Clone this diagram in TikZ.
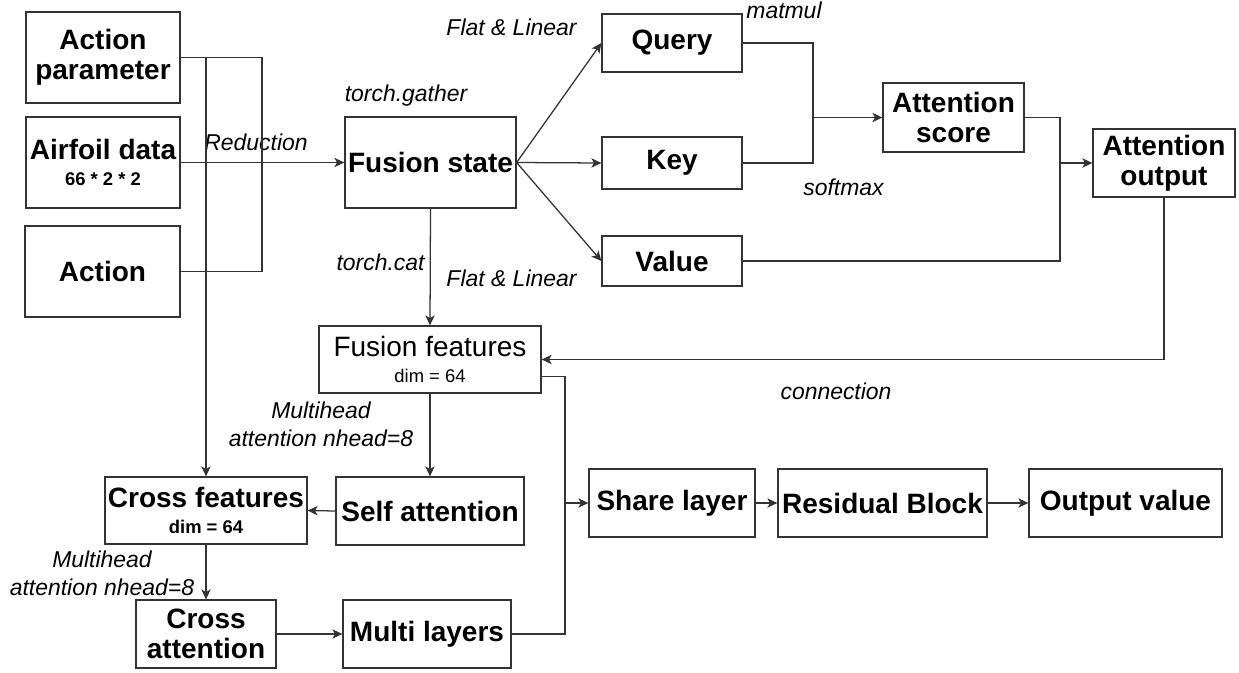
\documentclass[tikz,border=0pt]{standalone}
\usepackage{fontspec}
\setmainfont{Liberation Sans}
\usetikzlibrary{arrows.meta,calc}
\tikzset{
  box/.style={draw=black!80, line width=0.95pt, inner sep=0pt, align=center, text=black,
    font=\bfseries\fontsize{21}{22.5}\selectfont},
  lab/.style={inner sep=0pt, align=center, text=black, font=\itshape\fontsize{17.2}{21}\selectfont},
  conn/.style={draw=black!80, line width=0.95pt},
  arr/.style={conn, -{Stealth[length=7.5pt,width=7pt,inset=2pt]}},
}
\newcommand{\smallsz}{\fontsize{13.8}{15}\selectfont}
\begin{document}
\begin{tikzpicture}[x=0.75pt,y=-0.75pt]
\useasboundingbox (0,0) rectangle (1239,672);
% nodes
\node[box, minimum width=154*0.75pt, minimum height=91*0.75pt] (ap) at (103,57.5) {Action\\parameter};
\node[box, minimum width=154*0.75pt, minimum height=91*0.75pt] (af) at (103,162.5) {Airfoil data\\[-3pt]{\smallsz 66 * 2 * 2}};
\node[box, minimum width=155*0.75pt, minimum height=91*0.75pt] (ac) at (102.5,271.5) {Action};
\node[box, minimum width=171*0.75pt, minimum height=91*0.75pt] (fs) at (430.5,162.5) {Fusion state};
\node[box, minimum width=140*0.75pt, minimum height=58*0.75pt] (q) at (672,43) {Query};
\node[box, minimum width=140*0.75pt, minimum height=52*0.75pt] (k) at (672,163) {Key};
\node[box, minimum width=140*0.75pt, minimum height=50*0.75pt] (v) at (672,261) {Value};
\node[box, minimum width=141*0.75pt, minimum height=69*0.75pt] (as) at (953.5,117.5) {Attention\\score};
\node[box, minimum width=142*0.75pt, minimum height=68*0.75pt] (ao) at (1164,163) {Attention\\output};
\node[box, minimum width=222*0.75pt, minimum height=67*0.75pt] (ff) at (430,359.5) {\mdseries Fusion features\\[-2.5pt]{\mdseries\smallsz dim = 64}};
\node[box, minimum width=188*0.75pt, minimum height=68*0.75pt] (sa) at (430,511) {Self attention};
\node[box, minimum width=202*0.75pt, minimum height=67*0.75pt] (cf) at (206,510.5) {Cross features\\[-3.5pt]{\smallsz dim = 64}};
\node[box, minimum width=140*0.75pt, minimum height=68*0.75pt] (ca) at (206,634) {Cross\\attention};
\node[box, minimum width=168*0.75pt, minimum height=68*0.75pt] (ml) at (427,634) {Multi layers};
\node[box, minimum width=166*0.75pt, minimum height=68*0.75pt] (sl) at (672,503) {Share layer};
\node[box, minimum width=209*0.75pt, minimum height=68*0.75pt] (rb) at (882.5,503) {Residual Block};
\node[box, minimum width=193*0.75pt, minimum height=68*0.75pt] (ov) at (1125.5,503) {Output value};
% labels
\node[lab] (lred) at (256,142) {Reduction};
\node[lab] (lgat) at (406,96) {torch.gather};
\node[lab] (lcat) at (380.5,262) {torch.cat};
\node[lab] (lfl1) at (511.5,27) {Flat \& Linear};
\node[lab] (lfl2) at (511.5,278) {Flat \& Linear};
\node[lab] (lmat) at (784,10) {matmul};
\node[lab] (lsof) at (843.5,187) {softmax};
\node[lab] (lcon) at (836,391) {connection};
\node[lab] (lmh1) at (321,424) {Multihead\\attention nhead=8};
\node[lab] (lmh2) at (102,573) {Multihead\\attention nhead=8};
% junction coordinates
\coordinate (r1) at (262,163);
\coordinate (j1) at (813,117.5);
\coordinate (j2) at (1060,163);
\coordinate (j3) at (565,503);
% connectors
\draw[conn] (ap.east) -| (r1) |- (ac.east);
\draw[arr] (ap.east -| cf.north) -- (cf.north);
\draw[arr] (af.east) -- (fs.west);
\draw[arr] (fs.east) -- (q.west);
\draw[arr] (fs.east) -- (k.west);
\draw[arr] (fs.east) -- (v.west);
\draw[conn] (q.east) -| (j1) |- (k.east);
\draw[arr] (j1) -- (as.west);
\draw[conn] (as.east) -| (j2);
\draw[conn] (v.east) -| (j2);
\draw[arr] (j2) -- (ao.west);
\draw[arr] (ao.south) |- (ff.east);
\draw[arr] (fs.south) -- (ff.north);
\draw[arr] (ff.south) -- (sa.north);
\draw[arr] (sa.west) -- (cf.east);
\draw[arr] (cf.south) -- (ca.north);
\draw[arr] (ca.east) -- (ml.west);
\draw[conn] ([yshift=-13pt]ff.east) -| (j3);
\draw[conn] (ml.east) -| (j3);
\draw[arr] (j3) -- (sl.west);
\draw[arr] (sl.east) -- (rb.west);
\draw[arr] (rb.east) -- (ov.west);
\end{tikzpicture}
\end{document}
